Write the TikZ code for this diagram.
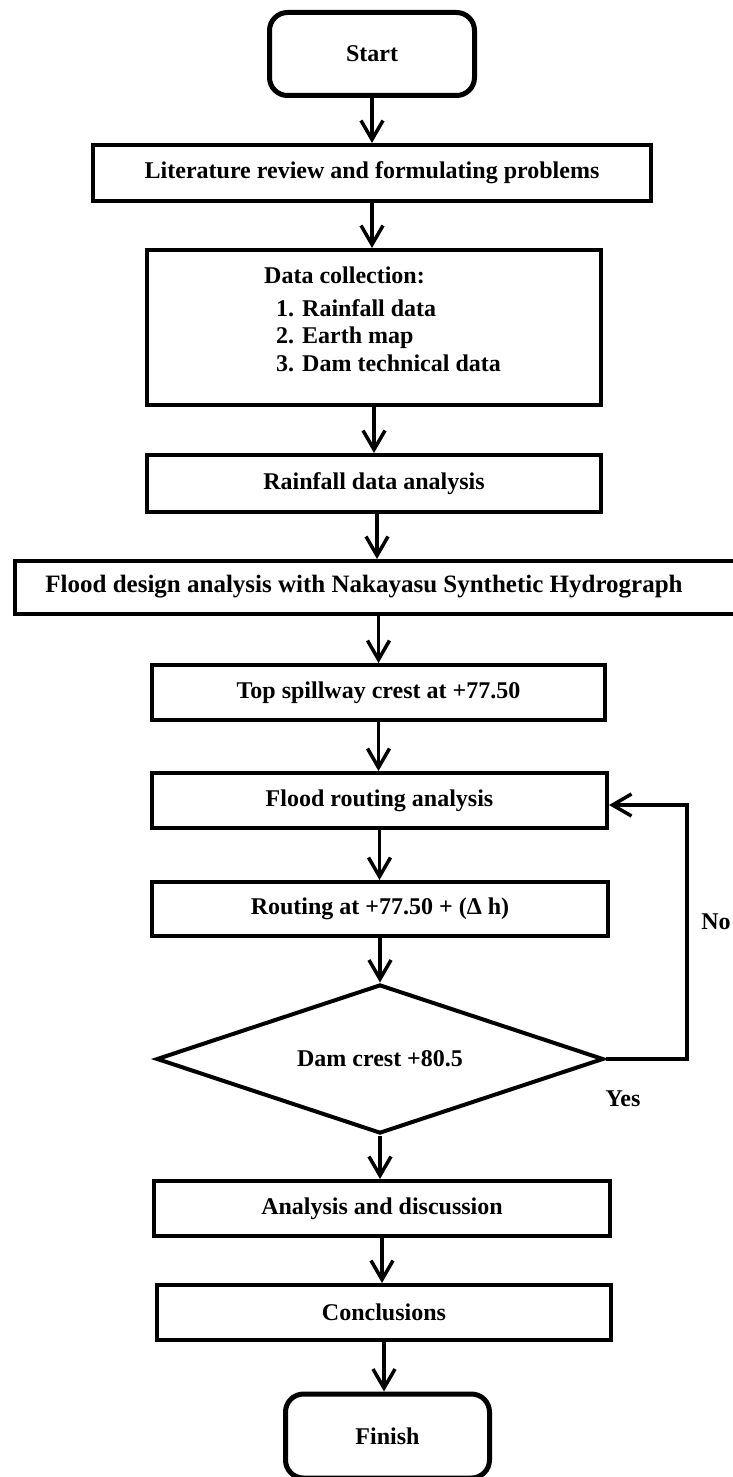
\documentclass[tikz,border=0pt]{standalone}
\usepackage{fontspec}
\setmainfont{Liberation Serif}
\usetikzlibrary{arrows.meta,shapes.geometric}
\newcommand\fs{\fontsize{24}{28}\selectfont\bfseries}
\newcommand\fsb{\fontsize{25}{29}\selectfont\bfseries}
\tikzset{
  box/.style={draw, line width=4pt, rectangle, inner sep=0pt, font=\fs},
  term/.style={box, rounded corners=18pt, line width=5pt},
  lbl/.style={inner sep=0pt, font=\fs},
  arr/.style={line width=3.5pt, -{Straight Barb[length=19pt,width=22pt]}},
}
\begin{document}
\begin{tikzpicture}[x=1pt,y=-1pt]
\useasboundingbox (0,0) rectangle (733,1477);
\clip (0,0) rectangle (733,1477);
\fill[white] (0,0) rectangle (733,1477);

\node[term, minimum width=205pt, minimum height=83pt] (start) at (372,54) {Start};
\node[box, minimum width=558pt, minimum height=56pt] (lit) at (372,173) {Literature review and formulating problems};
\node[box, minimum width=454pt, minimum height=155pt] (data) at (374,327.5) {};
\node[lbl, anchor=base west] (d0) at (264,283) {Data collection:};
\node[lbl, anchor=base west] (d1) at (276,316) {1. Rainfall data};
\node[lbl, anchor=base west] (d2) at (276,343) {2. Earth map};
\node[lbl, anchor=base west] (d3) at (276,371) {3. Dam technical data};
\node[box, minimum width=454pt, minimum height=57pt] (rain) at (374,483.5) {Rainfall data analysis};
\node[box, minimum width=727pt, minimum height=53pt] (flood) at (378.5,587.5) {};
\node[lbl, font=\fsb] (floodtxt) at (364,587) {Flood design analysis with Nakayasu Synthetic Hydrograph};
\node[box, minimum width=453pt, minimum height=55pt] (top) at (378.5,692.5) {Top spillway crest at +77.50};
\node[box, minimum width=455pt, minimum height=55pt] (fr) at (379.5,800.5) {Flood routing analysis};
\node[box, minimum width=456pt, minimum height=54pt] (rt) at (380,909) {Routing at +77.50 + (Δ h)};
\node[draw, line width=4pt, diamond, inner sep=0pt, aspect=2.96, minimum width=447pt, minimum height=149pt, font=\fs] (dia) at (380,1059) {Dam crest +80.5};
\node[box, minimum width=456pt, minimum height=55pt] (ana) at (382,1208.5) {Analysis and discussion};
\node[box, minimum width=454pt, minimum height=55pt] (con) at (384,1312.5) {Conclusions};
\node[term, minimum width=204pt, minimum height=84pt] (fin) at (387.5,1436) {Finish};

\node[lbl] (no) at (716,922) {No};
\node[lbl] (yes) at (623,1099) {Yes};

\draw[arr] (start.south) -- (start.south |- lit.north);
\draw[arr] (lit.south) -- (lit.south |- data.north);
\draw[arr] (data.south) -- (data.south |- rain.north);
\draw[arr] ([xshift=3pt]rain.south) -- ([xshift=3pt]rain.south |- flood.north);
\draw[arr] (top.north |- flood.south) -- (top.north);
\draw[arr] (top.south) -- (top.south |- fr.north);
\draw[arr] (fr.south) -- (fr.south |- rt.north);
\draw[arr] (rt.south) -- (rt.south |- dia.north);
\draw[arr] (dia.south) -- (dia.south |- ana.north);
\draw[arr] (ana.south) -- (ana.south |- con.north);
\draw[arr] (con.south) -- (con.south |- fin.north);

\coordinate (lp) at (687,805);
\draw[arr] (dia.east) -| (lp) -- (lp -| fr.east);
\end{tikzpicture}
\end{document}
